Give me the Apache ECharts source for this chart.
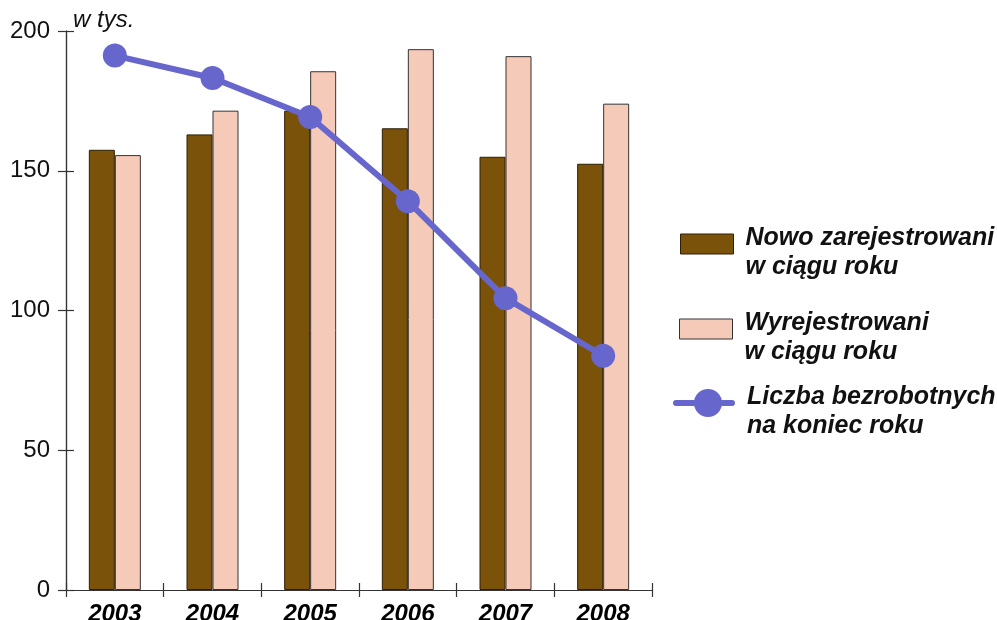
<!DOCTYPE html>
<html><head><meta charset="utf-8">
<script src="https://cdn.jsdelivr.net/npm/echarts@6/dist/echarts.min.js"></script>
<style>html,body{margin:0;padding:0;background:#fff}#c{width:997px;height:620px}</style>
</head><body><div id="c"></div>
<script>
var years = ['2003','2004','2005','2006','2007','2008'];
var nowoZarejestrowani = [157.5, 163, 171.5, 165.2, 155, 152.5];
var wyrejestrowani = [155.6, 171.5, 185.6, 193.5, 191, 174];
var liczbaBezrobotnych = [191.2, 183.2, 169.2, 139.1, 104.4, 83.8];
var yTicks = [0, 50, 100, 150, 200];
var names = ['Nowo zarejestrowani\nw ciągu roku', 'Wyrejestrowani\nw ciągu roku', 'Liczba bezrobotnych\nna koniec roku'];

var chart = echarts.init(document.getElementById('c'));
var font = "'Liberation Sans', Arial, sans-serif";
var legendText = {fontFamily: font, fontSize: 25, fontWeight: 'bold', fontStyle: 'italic', color: '#111',
  padding: [0, 0, 0, 7],
  rich: {
    g: {fontSize: 1, lineHeight: 18, height: 18},
    a: {fontFamily: font, fontSize: 25, fontWeight: 'bold', fontStyle: 'italic', color: '#111', lineHeight: 29}
  }};
function fmt(n) {
  var parts = n.split('\n');
  return '{g| }\n' + parts.map(function (p) { return '{a|' + p + '}'; }).join('\n');
}
var lineIcon = 'path://M3,11 L59,11 A3,3 0 0,1 59,17 L3,17 A3,3 0 0,1 3,11 Z M35,0 A14,14 0 1,1 34.99,0 Z';
var W = 997, H = 620;
var gLeft = 66, gRight = 345, gTop = 31, gBottom = 30;
var gridPos = {left: gLeft, right: gRight, top: gTop, bottom: gBottom, outerBoundsMode: 'none', containLabel: false};
var tickStyle = {color: '#333', width: 1.2};
chart.setOption({
  animation: false,
  backgroundColor: '#fff',
  grid: [Object.assign({}, gridPos)],
  legend: [
    {data: [names[0]], orient: 'vertical', left: 680, top: 206, padding: 0, itemWidth: 53, itemHeight: 20, icon: 'rect',
     formatter: fmt, itemStyle: {borderColor: '#2e1f05', borderWidth: 1}, textStyle: legendText, selectedMode: false},
    {data: [names[1]], orient: 'vertical', left: 679, top: 291, padding: 0, itemWidth: 53, itemHeight: 20, icon: 'rect',
     formatter: fmt, itemStyle: {borderColor: '#333', borderWidth: 1}, textStyle: legendText, selectedMode: false},
    {data: [names[2]], orient: 'vertical', left: 673, top: 365, padding: 0, itemWidth: 62, itemHeight: 28, icon: lineIcon,
     formatter: fmt, itemStyle: {color: '#6666CC', borderWidth: 0}, lineStyle: {width: 0}, textStyle: legendText, selectedMode: false}
  ],
  xAxis: [
    {type: 'category', data: years, boundaryGap: true,
     axisLine: {lineStyle: tickStyle},
     axisTick: {show: true, length: 7, lineStyle: tickStyle},
     axisLabel: {fontFamily: font, fontSize: 24, fontWeight: 'bold', fontStyle: 'italic', color: '#000', margin: 12}},
    {type: 'category', show: true, z: 10, data: years, boundaryGap: true, position: 'top', offset: -(H - gTop - gBottom),
     axisLine: {show: true, onZero: false, lineStyle: tickStyle},
     axisTick: {show: true, length: 7, lineStyle: tickStyle},
     axisLabel: {show: false}}
  ],
  yAxis: [
    {type: 'value', min: 0, max: 200, interval: 50, position: 'left',
     name: 'w tys.', nameLocation: 'end', nameGap: 11,
     nameTextStyle: {fontFamily: font, fontSize: 24, fontStyle: 'italic', color: '#111', align: 'left', verticalAlign: 'middle', padding: [0, 0, 0, 7]},
     axisLine: {show: true, lineStyle: tickStyle},
     axisTick: {show: true, length: 8, lineStyle: tickStyle},
     splitLine: {show: false},
     axisLabel: {fontFamily: font, fontSize: 24, color: '#111', margin: 16,
       formatter: function (v) { return yTicks.indexOf(v) >= 0 ? String(v) : ''; }}},
    {type: 'value', show: true, z: 10, min: 0, max: 200, interval: 50, position: 'right', offset: -(W - gLeft - gRight),
     axisLine: {show: true, onZero: false, lineStyle: tickStyle}, splitLine: {show: false}, axisLabel: {show: false},
     axisTick: {show: true, length: 8, lineStyle: tickStyle}}
  ],
  series: [
    {name: names[0], type: 'bar', data: nowoZarejestrowani, barWidth: 26, barGap: '0%',
     itemStyle: {color: '#7A520A', borderColor: '#2e1f05', borderWidth: 1}},
    {name: names[1], type: 'bar', data: wyrejestrowani, barWidth: 26, barGap: '0%',
     itemStyle: {color: '#F6CAB9', borderColor: '#333', borderWidth: 1}},
    {name: names[2], type: 'line', data: liczbaBezrobotnych, symbol: 'circle', symbolSize: 24,
     lineStyle: {color: '#6666CC', width: 6}, itemStyle: {color: '#6666CC'}, z: 5},
    {name: 'ticks', type: 'line', xAxisIndex: 1, yAxisIndex: 1, data: liczbaBezrobotnych, silent: true,
     showSymbol: false, lineStyle: {opacity: 0}, itemStyle: {opacity: 0}}
  ]
});
</script></body></html>
